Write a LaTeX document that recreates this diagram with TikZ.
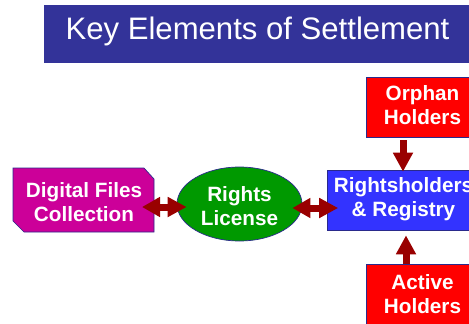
\documentclass[tikz,border=0pt]{standalone}
\usepackage{fontspec}
\setmainfont{Liberation Sans}
\usetikzlibrary{arrows.meta,shapes.geometric}
\definecolor{titleblue}{HTML}{333399}
\definecolor{edgeblue}{HTML}{2A2A8C}
\definecolor{dmagenta}{HTML}{CC0099}
\definecolor{dgreen}{HTML}{009900}
\definecolor{dblue}{HTML}{3333FF}
\definecolor{dred}{HTML}{FF0000}
\definecolor{arrowred}{HTML}{990000}
\tikzset{
  lbl/.style={text=white,font=\fontsize{20.7}{24}\selectfont\bfseries,align=center,inner sep=0pt},
  boxnode/.style={draw=edgeblue,line width=0.7pt,minimum height=60pt,inner sep=0pt},
  wideconn/.style={draw=arrowred,line width=7pt},
  onehead/.style={wideconn,-{Triangle[length=19pt,width=19pt]}},
  twohead/.style={wideconn,{Triangle[length=18pt,width=19pt]}-{Triangle[length=19pt,width=19pt]}}
}
\begin{document}
\begin{tikzpicture}[x=1pt,y=-1pt]
\useasboundingbox (0,0) rectangle (469,324);
\clip (0,0) rectangle (469,324);
\fill[white] (0,0) rectangle (469,324);
\node[fill=titleblue,minimum width=440pt,minimum height=58pt,inner sep=0pt,anchor=north west] (title) at (44,5) {};
\node[text=white,font=\fontsize{31.1}{36}\selectfont,inner sep=0pt] (titletext) at (257.5,31) {Key Elements of Settlement};
\filldraw[fill=dmagenta,draw=edgeblue,line width=0.7pt] (13,168) -- (144,168) -- (154,179) -- (154,232) -- (24,232) -- (13,221) -- cycle;
\node[lbl] (dig) at (84,202) {Digital Files\\Collection};
\node[ellipse,fill=dgreen,draw=edgeblue,line width=0.7pt,minimum width=125pt,minimum height=74pt,inner sep=0pt] (lic) at (239.5,204) {};
\node[lbl] (lictext) at (239.5,206.5) {Rights\\License};
\node[boxnode,fill=dblue,minimum width=151pt] (reg) at (403,200) {};
\node[lbl] (regtext) at (403.5,199.5) {Rightsholders\\\& Registry};
\node[boxnode,fill=dred,minimum width=112pt] (orph) at (422,107) {};
\node[lbl] (orphtext) at (422.5,105.5) {Orphan\\Holders};
\node[boxnode,fill=dred,minimum width=112pt] (act) at (422,294) {};
\node[lbl] (acttext) at (422.5,294) {Active\\Holders};
\coordinate (digR) at (142,207);
\draw[twohead] (digR) -- ([xshift=10pt,yshift=-3pt]lic.west);
\draw[twohead] ([xshift=-10pt,yshift=-4pt]lic.east) -- ([xshift=11pt,yshift=-8pt]reg.west);
\draw[onehead] ([xshift=-19pt,yshift=-3pt]orph.south) -- ([xshift=0pt,yshift=-2pt]reg.north);
\draw[onehead] ([xshift=-16pt]act.north) -- ([xshift=3pt,yshift=-5pt]reg.south);
\end{tikzpicture}
\end{document}
